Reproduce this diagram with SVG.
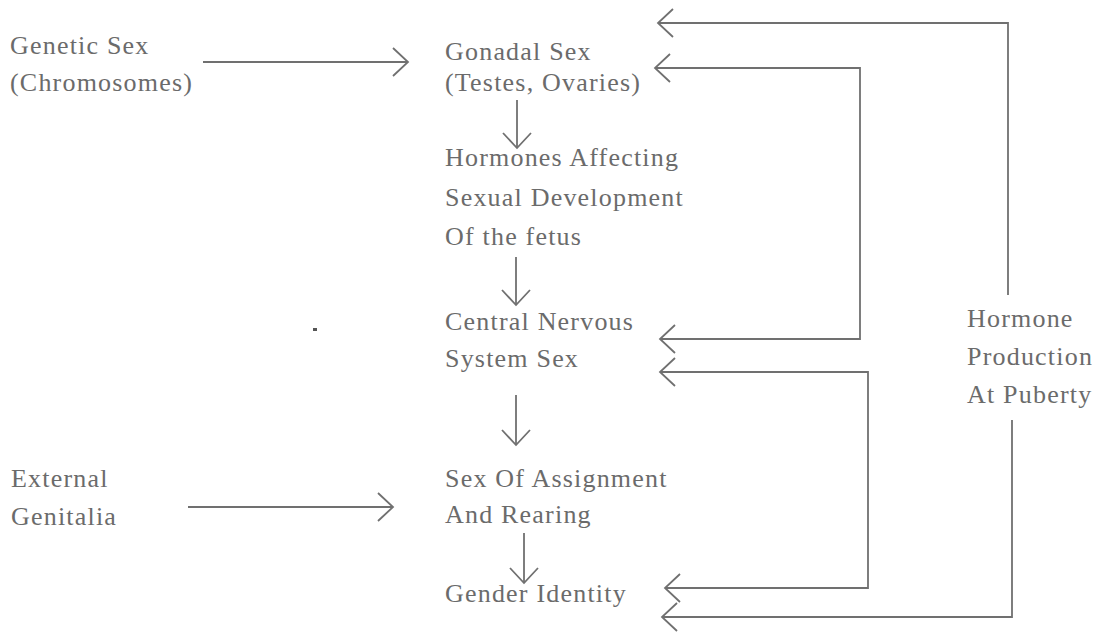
<svg xmlns="http://www.w3.org/2000/svg" width="1096" height="635" viewBox="0 0 1096 635">
<style>
text{font-family:"Liberation Serif","Times New Roman",serif;font-size:26px;letter-spacing:1.2px;fill:#6b6b6b}
.c{fill:none;stroke:#707070;stroke-width:1.8}
</style>
<defs>
<marker id="ch" viewBox="-18 -16 20 32" refX="0" refY="0" markerWidth="20" markerHeight="32" markerUnits="userSpaceOnUse" orient="auto-start-reverse" overflow="visible">
<path d="M-15,-14 L0,0 L-15,14" fill="none" stroke="#707070" stroke-width="1.8"/>
</marker>
</defs>
<rect width="1096" height="635" fill="#fff"/>
<g id="connectors">
<path class="c" d="M203,62 H408" marker-end="url(#ch)"/>
<path class="c" d="M517,100 V148" marker-end="url(#ch)"/>
<path class="c" d="M516,257 V305" marker-end="url(#ch)"/>
<path class="c" d="M516,395 V445" marker-end="url(#ch)"/>
<path class="c" d="M524,533 V583" marker-end="url(#ch)"/>
<path class="c" d="M188,507 H393" marker-end="url(#ch)"/>
<path class="c" d="M1008,295 V23 H658" marker-end="url(#ch)"/>
<path class="c" d="M655,68 H860 V339 H660" marker-start="url(#ch)" marker-end="url(#ch)"/>
<path class="c" d="M660,372 H868 V588 H665" marker-start="url(#ch)" marker-end="url(#ch)"/>
<path class="c" d="M1012,420 V617 H662" marker-end="url(#ch)"/>
</g>
<g id="genetic-sex"><text x="10" y="54">Genetic Sex</text><text x="10" y="91">(Chromosomes)</text></g>
<g id="gonadal-sex"><text x="445" y="60">Gonadal Sex</text><text x="445" y="91">(Testes, Ovaries)</text></g>
<g id="hormones-fetus"><text x="445" y="166">Hormones Affecting</text><text x="445" y="206">Sexual Development</text><text x="445" y="245">Of the fetus</text></g>
<g id="cns-sex"><text x="445" y="330">Central Nervous</text><text x="445" y="367">System Sex</text></g>
<g id="sex-assignment"><text x="445" y="487">Sex Of Assignment</text><text x="445" y="523">And Rearing</text></g>
<g id="gender-identity"><text x="445" y="602">Gender Identity</text></g>
<g id="external-genitalia"><text x="11" y="487">External</text><text x="11" y="525">Genitalia</text></g>
<g id="hormone-production"><text x="967" y="327">Hormone</text><text x="967" y="365">Production</text><text x="967" y="403">At Puberty</text></g>
<rect x="313" y="328" width="4" height="3" fill="#555"/>
</svg>
